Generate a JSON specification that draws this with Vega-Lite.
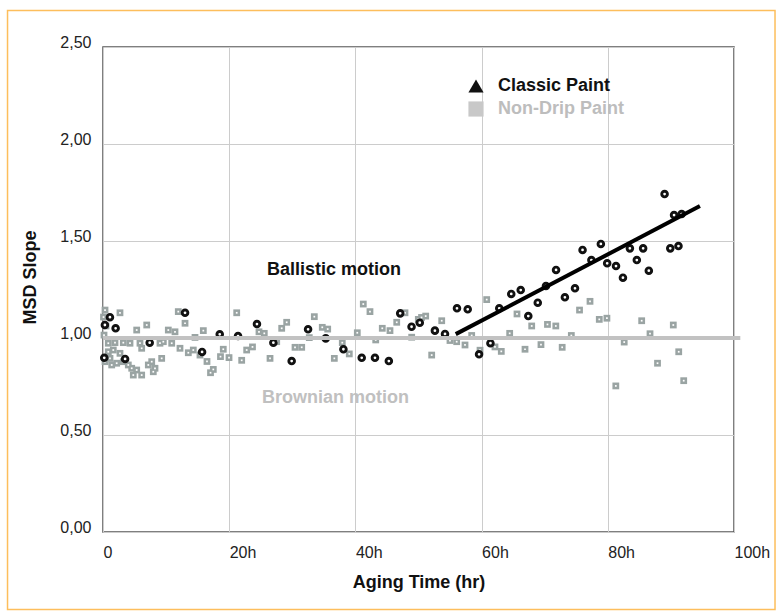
{
  "$schema": "https://vega.github.io/schema/vega-lite/v6.json",
  "autosize": {"type": "none"},
  "width": 631,
  "height": 485,
  "padding": {"left": 103, "top": 47, "right": 47, "bottom": 84},
  "background": "white",
  "datasets": {
    "classic": [
      {"t":0.2,"slope":0.898},{"t":0.3,"slope":1.067},{"t":1.1,"slope":1.107},{"t":2.0,"slope":1.050},{"t":3.5,"slope":0.892},
      {"t":7.4,"slope":0.976},{"t":13.0,"slope":1.130},{"t":15.7,"slope":0.928},{"t":18.5,"slope":1.019},{"t":21.4,"slope":1.010},
      {"t":24.4,"slope":1.072},{"t":27.0,"slope":0.976},{"t":29.9,"slope":0.881},{"t":32.5,"slope":1.045},{"t":35.3,"slope":0.998},
      {"t":38.1,"slope":0.942},{"t":41.0,"slope":0.898},{"t":43.1,"slope":0.898},{"t":45.3,"slope":0.881},{"t":47.1,"slope":1.127},
      {"t":48.9,"slope":1.058},{"t":50.2,"slope":1.079},{"t":52.6,"slope":1.038},{"t":54.2,"slope":1.021},{"t":56.1,"slope":1.153},
      {"t":57.8,"slope":1.148},{"t":59.6,"slope":0.916},{"t":61.4,"slope":0.973},{"t":62.8,"slope":1.153},{"t":64.7,"slope":1.227},
      {"t":66.2,"slope":1.247},{"t":67.4,"slope":1.113},{"t":68.9,"slope":1.182},{"t":70.2,"slope":1.268},{"t":71.8,"slope":1.351},
      {"t":73.2,"slope":1.210},{"t":74.8,"slope":1.256},{"t":76.0,"slope":1.454},{"t":77.4,"slope":1.402},{"t":78.9,"slope":1.485},
      {"t":79.9,"slope":1.385},{"t":81.3,"slope":1.371},{"t":82.4,"slope":1.311},{"t":83.5,"slope":1.462},{"t":84.6,"slope":1.402},
      {"t":85.6,"slope":1.462},{"t":86.5,"slope":1.347},{"t":89.0,"slope":1.742},{"t":89.9,"slope":1.462},{"t":90.5,"slope":1.634},
      {"t":91.2,"slope":1.474},{"t":91.7,"slope":1.639}
    ],
    "nondrip": [
      {"t":0.32,"slope":1.144},{"t":0.08,"slope":1.108},{"t":2.69,"slope":1.130},{"t":6.93,"slope":1.067},{"t":5.34,"slope":1.041},
      {"t":13.0,"slope":1.076},{"t":11.93,"slope":1.136},{"t":10.35,"slope":1.041},{"t":11.41,"slope":1.032},{"t":15.90,"slope":1.038},
      {"t":14.58,"slope":1.003},{"t":0.84,"slope":0.973},{"t":1.90,"slope":0.976},{"t":3.22,"slope":0.976},{"t":4.28,"slope":0.973},
      {"t":5.86,"slope":0.973},{"t":6.13,"slope":0.947},{"t":9.03,"slope":0.973},{"t":9.56,"slope":0.981},{"t":10.89,"slope":0.973},
      {"t":12.20,"slope":0.947},{"t":13.52,"slope":0.924},{"t":14.31,"slope":0.938},{"t":15.37,"slope":0.912},{"t":16.48,"slope":0.879},
      {"t":17.48,"slope":0.838},{"t":17.04,"slope":0.821},{"t":18.62,"slope":0.904},{"t":19.06,"slope":0.942},{"t":19.97,"slope":0.899},
      {"t":21.19,"slope":1.130},{"t":21.98,"slope":0.885},{"t":22.77,"slope":0.938},{"t":23.69,"slope":0.954},{"t":0.84,"slope":0.929},
      {"t":1.63,"slope":0.938},{"t":2.69,"slope":0.921},{"t":1.11,"slope":0.895},{"t":2.17,"slope":0.870},{"t":3.22,"slope":0.878},
      {"t":4.01,"slope":0.861},{"t":4.55,"slope":0.844},{"t":5.34,"slope":0.835},{"t":4.80,"slope":0.809},{"t":6.13,"slope":0.809},
      {"t":7.72,"slope":0.878},{"t":7.18,"slope":0.861},{"t":8.24,"slope":0.844},{"t":7.97,"slope":0.826},{"t":9.30,"slope":0.895},
      {"t":1.38,"slope":0.861},{"t":0.32,"slope":0.878},{"t":0.16,"slope":1.015},{"t":0.48,"slope":1.062},{"t":24.72,"slope":1.032},
      {"t":25.56,"slope":1.024},{"t":27.53,"slope":0.981},{"t":26.47,"slope":0.895},{"t":28.32,"slope":1.050},{"t":29.11,"slope":1.081},
      {"t":30.43,"slope":0.952},{"t":31.49,"slope":0.952},{"t":32.69,"slope":1.002},{"t":33.49,"slope":1.110},{"t":34.75,"slope":1.055},
      {"t":35.61,"slope":1.046},{"t":37.92,"slope":0.976},{"t":36.66,"slope":0.895},{"t":39.03,"slope":0.918},{"t":40.30,"slope":1.027},
      {"t":41.25,"slope":1.175},{"t":42.31,"slope":1.136},{"t":43.22,"slope":0.990},{"t":44.26,"slope":1.050},{"t":45.48,"slope":1.038},
      {"t":46.55,"slope":1.081},{"t":47.86,"slope":1.130},{"t":48.92,"slope":1.004},{"t":49.97,"slope":1.096},{"t":50.48,"slope":1.106},
      {"t":51.14,"slope":1.113},{"t":53.68,"slope":1.089},{"t":52.09,"slope":0.912},{"t":54.99,"slope":0.987},{"t":56.05,"slope":0.981},
      {"t":57.37,"slope":0.964},{"t":58.43,"slope":1.013},{"t":60.81,"slope":1.198},{"t":59.75,"slope":0.937},{"t":62.12,"slope":0.954},
      {"t":63.12,"slope":0.931},{"t":64.45,"slope":1.024},{"t":65.61,"slope":1.124},{"t":66.88,"slope":0.942},{"t":67.94,"slope":1.062},
      {"t":69.41,"slope":0.966},{"t":70.44,"slope":1.070},{"t":71.76,"slope":1.062},{"t":72.77,"slope":0.952},{"t":74.22,"slope":1.013},
      {"t":75.52,"slope":1.144},{"t":77.18,"slope":1.189},{"t":78.65,"slope":1.096},{"t":79.86,"slope":1.102},{"t":85.37,"slope":1.089},
      {"t":86.69,"slope":1.022},{"t":82.60,"slope":0.979},{"t":90.38,"slope":1.067},{"t":91.24,"slope":0.929},{"t":87.88,"slope":0.870},
      {"t":92.03,"slope":0.780},{"t":81.27,"slope":0.753}
    ]
  },
  "layer": [
    {
      "data": {"values": [{}]},
      "mark": {"type": "rect", "fill": null, "stroke": "#fdbe5c", "strokeWidth": 1.5, "clip": false},
      "encoding": {
        "x": {"datum": -15.13, "type": "quantitative", "scale": {"domain": [0, 100], "nice": false, "zero": false},
          "axis": {"title": "Aging Time (hr)", "values": [0, 20, 40, 60, 80, 100],
            "labelExpr": "datum.value == 0 ? '0' : datum.value + 'h'"}},
        "x2": {"datum": 106.5},
        "y": {"datum": -0.4, "type": "quantitative", "scale": {"domain": [0, 2.5], "nice": false, "zero": false},
          "axis": {"title": "MSD Slope", "values": [0, 0.5, 1, 1.5, 2, 2.5], "titleX": -64, "titleY": 230,
            "labelExpr": "replace(format(datum.value, '.2f'), '.', ',')"}},
        "y2": {"datum": 2.688}
      }
    },
    {
      "data": {"name": "nondrip"},
      "mark": {"type": "point", "shape": "square", "filled": true, "color": "#9aa4a3", "opacity": 1, "size": 46},
      "encoding": {"x": {"field": "t", "type": "quantitative"}, "y": {"field": "slope", "type": "quantitative"}}
    },
    {
      "data": {"name": "nondrip"},
      "mark": {"type": "point", "shape": "square", "filled": true, "color": "#ffffff", "opacity": 1, "size": 3},
      "encoding": {"x": {"field": "t", "type": "quantitative"}, "y": {"field": "slope", "type": "quantitative"}}
    },
    {
      "data": {"name": "classic"},
      "mark": {"type": "point", "shape": "circle", "filled": true, "fill": "#ffffff", "stroke": "#111111", "strokeWidth": 2.9, "opacity": 1, "size": 32},
      "encoding": {"x": {"field": "t", "type": "quantitative"}, "y": {"field": "slope", "type": "quantitative"}}
    },
    {
      "data": {"values": [{}]},
      "mark": {"type": "rule", "color": "#c2c2c2", "strokeWidth": 4, "clip": false},
      "encoding": {"x": {"datum": 0}, "x2": {"datum": 101}, "y": {"datum": 1}}
    },
    {
      "data": {"values": [{}]},
      "mark": {"type": "rule", "color": "#000000", "strokeWidth": 4},
      "encoding": {"x": {"datum": 55.9}, "x2": {"datum": 94.6}, "y": {"datum": 1.02}, "y2": {"datum": 1.68}}
    },
    {
      "data": {"values": [{}]},
      "mark": {"type": "text", "text": "Ballistic motion", "align": "left", "baseline": "middle", "font": "Liberation Sans", "fontSize": 18, "fontWeight": "bold", "color": "#111111"},
      "encoding": {"x": {"datum": 26.0}, "y": {"datum": 1.35}}
    },
    {
      "data": {"values": [{}]},
      "mark": {"type": "text", "text": "Brownian motion", "align": "left", "baseline": "middle", "font": "Liberation Sans", "fontSize": 18, "fontWeight": "bold", "color": "#c0c0c0"},
      "encoding": {"x": {"datum": 25.2}, "y": {"datum": 0.69}}
    },
    {
      "data": {"values": [{"series": "Classic Paint"}, {"series": "Non-Drip Paint"}]},
      "transform": [{"filter": "datum.series == 'none'"}],
      "mark": {"type": "point", "filled": true, "opacity": 1},
      "encoding": {
        "color": {"field": "series", "type": "nominal",
          "scale": {"domain": ["Classic Paint", "Non-Drip Paint"], "range": ["#111111", "#c8c8c8"]},
          "legend": {"title": null, "orient": "none", "legendX": 364, "legendY": 30,
            "symbolSize": 230, "symbolStrokeWidth": 0, "symbolOpacity": 1, "labelFontSize": 18, "labelFont": "Liberation Sans",
            "labelFontWeight": "bold", "labelOffset": 13, "rowPadding": 5, "padding": 0,
            "labelColor": {"expr": "datum.label === 'Classic Paint' ? '#111111' : '#bdbdbd'"}}},
        "shape": {"field": "series", "type": "nominal",
          "scale": {"domain": ["Classic Paint", "Non-Drip Paint"], "range": ["triangle-up", "square"]}}
      }
    }
  ],
  "config": {
    "view": {"stroke": "#555555", "strokeWidth": 1.5},
    "font": "Liberation Sans",
    "axis": {
      "domain": false, "ticks": false, "grid": true, "gridColor": "#cccccc", "gridWidth": 1,
      "labelFont": "Liberation Sans", "labelFontSize": 16, "labelColor": "#222222",
      "titleFont": "Liberation Sans", "titleFontSize": 18, "titleFontWeight": "bold", "titleColor": "#111111"
    },
    "axisX": {"labelAlign": "left", "labelPadding": 12, "titlePadding": 13},
    "axisY": {"labelPadding": 12, "labelOffset": -5}
  }
}
